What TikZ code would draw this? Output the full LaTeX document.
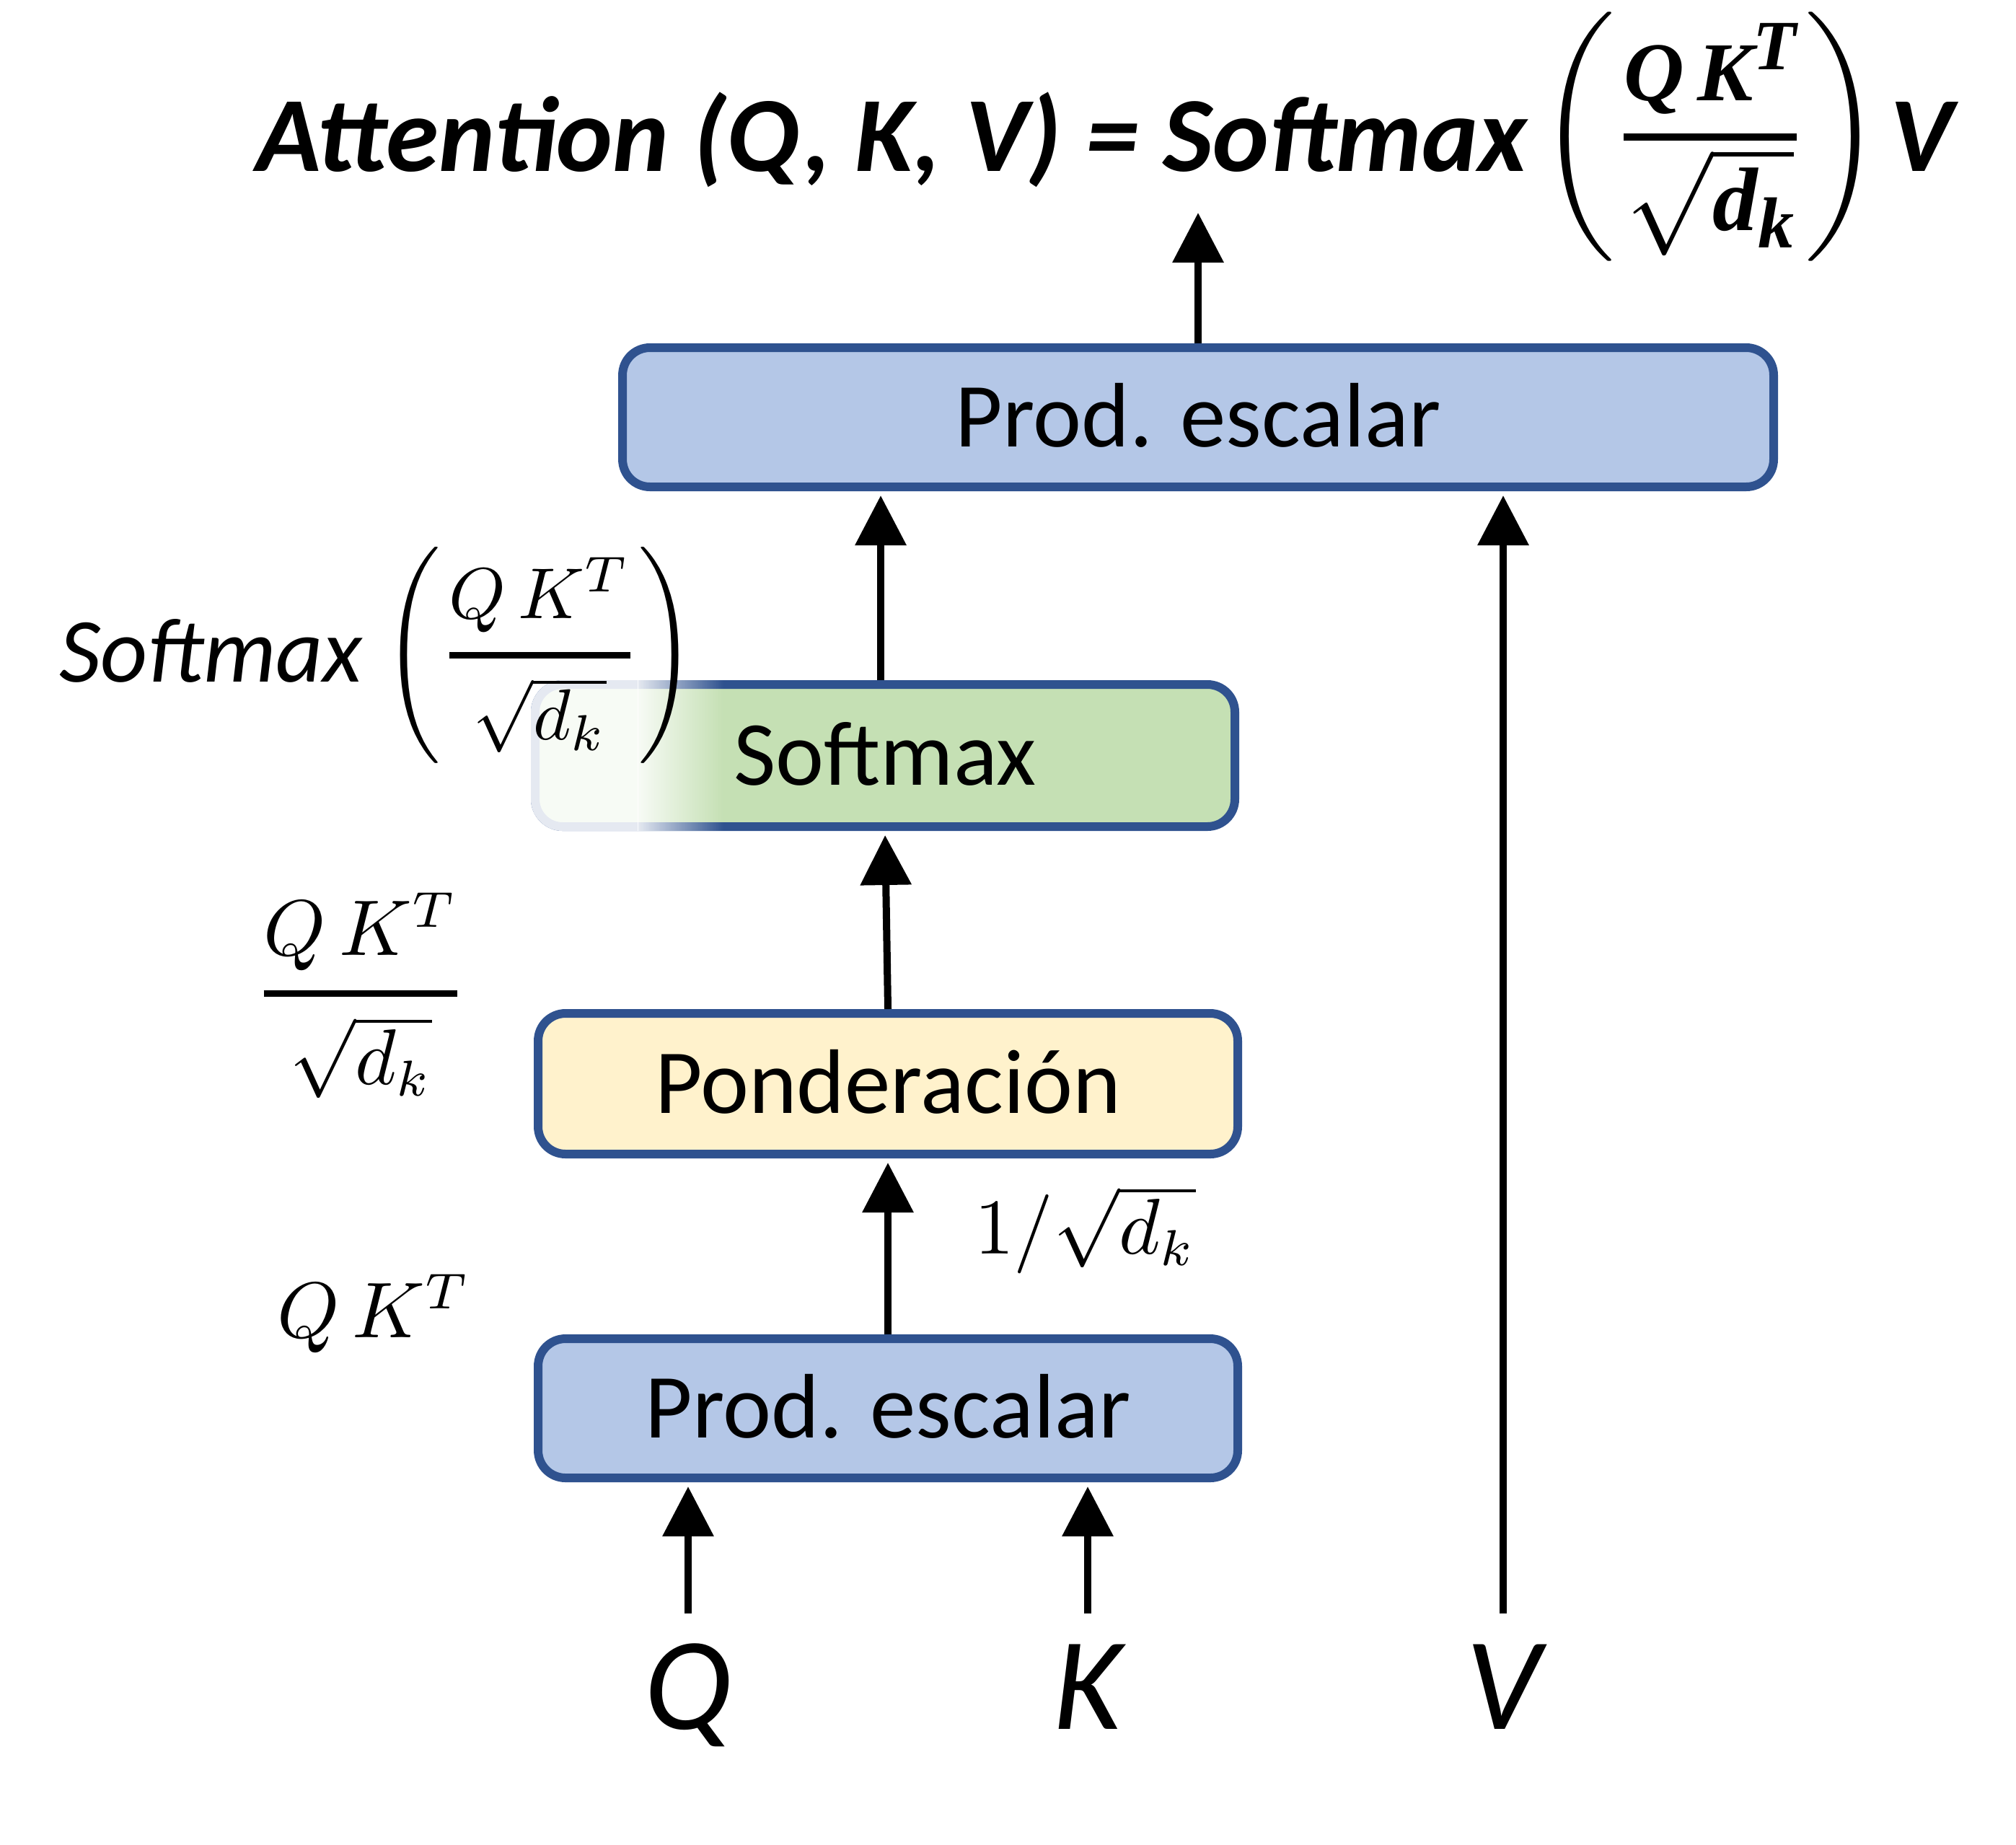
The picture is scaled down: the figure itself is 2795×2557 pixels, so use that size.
\documentclass[tikz,border=0pt]{standalone}
\usepackage{amsmath}
\usepackage[no-math]{fontspec}
\setmainfont{Carlito}
\newfontfamily\tms{Liberation Serif}
\usetikzlibrary{arrows.meta,fadings}
\definecolor{bdr}{HTML}{2F528F}
\definecolor{bluef}{HTML}{B4C7E7}
\definecolor{yelf}{HTML}{FFF2CC}
\definecolor{grnf}{HTML}{C5E0B4}
\newcommand\tb[2]{\text{\fontsize{#1}{#1}\selectfont\tms\bfseries\itshape #2}}
\newcommand\tfr[2]{\genfrac{}{}{0.9pt}{0}{#1}{#2}}
\newcommand\tfrt[2]{\genfrac{}{}{1pt}{1}{#1}{#2}}
\tikzfading[name=fadeout, left color=transparent!0, right color=transparent!100]
\begin{document}
\begin{tikzpicture}[x=0.1pt,y=-0.1pt,
  box/.style={draw=bdr, line width=1.2pt, rounded corners=3.8pt, inner sep=0pt,
    font=\fontsize{12.7}{15}\selectfont, text height=8.2pt, text depth=0pt},
  arr/.style={line width=1pt, -{Triangle[length=6.9pt,width=6.9pt]}, shorten >=0.6pt},
  inlab/.style={font=\fontsize{18.3}{22}\selectfont\itshape, anchor=base, inner sep=0pt},
  mlab/.style={font=\fontsize{10.6}{13}\selectfont, inner sep=0pt},
]
\useasboundingbox (0,0) rectangle (2795,2557);

% boxes
\node[box, fill=bluef, minimum width=159.6pt, minimum height=19.3pt] (top) at (1661,578.5) {Prod. escalar};
\node[box, fill=grnf, minimum width=97pt, minimum height=19.7pt] (sm) at (1227,1047.5) {Softmax};
\node[box, fill=yelf, minimum width=97pt, minimum height=19.5pt] (pond) at (1231,1502.5) {Ponderación};
\node[box, fill=bluef, minimum width=97pt, minimum height=19.3pt] (bot) at (1231,1952.5) {Prod. escalar};

% faded left part of the softmax box
\begin{scope}
  \clip[rounded corners=4.4pt] (736,943) rectangle (1718,1152);
  \fill[white, fill opacity=0.88] (720,930) rectangle (884.5,1165);
  \fill[white, fill opacity=0.88, path fading=fadeout] (884,930) rectangle (1003,1165);
\end{scope}

% title
\node[anchor=base west, inner sep=0pt, font=\fontsize{14.8}{18}\selectfont\bfseries\itshape] (title) at (353,237)
  {Attention (Q, K, V) = Softmax\hspace{0.1em}\raisebox{1.1pt}{$\left(\tfrt{\raisebox{3pt}{\tb{11.6}{Q\hspace{0.16em}K}\raisebox{4.3pt}{\tb{9.8}{T}}}}{\sqrt{\tb{12.5}{d}\raisebox{-2.3pt}{\tb{10}{k}}}}\right)$}\hspace{0.08em}V};

% side labels
\node[anchor=base west, inner sep=0pt, font=\fontsize{12.7}{15}\selectfont\itshape] (smlab) at (80,945)
  {Softmax {\fontsize{10.4}{12.5}\selectfont\raisebox{1.2pt}{$\left(\tfr{Q\,K^T}{\sqrt{d_k}}\right)$}}};
\node[mlab, anchor=base] (frlab) at (500,1405) {$\tfr{Q\,K^T}{\sqrt{d_k}}$};
\node[mlab, anchor=base west] (qklab) at (382,1854) {$Q\,K^T$};
\node[mlab, anchor=base west] (dklab) at (1349,1738) {$1/\sqrt{d_k}$};

% inputs
\node[inlab] (Q) at (954,2397) {Q};
\node[inlab] (K) at (1508,2397) {K};
\node[inlab] (V) at (2084,2397) {V};
\coordinate (qs) at (954,2237);
\coordinate (ks) at (1508,2237);
\coordinate (vs) at (2084,2237);
\coordinate (ttip) at (1661,289);

% connectors
\draw[arr] (qs) -- (qs |- bot.south);
\draw[arr] (ks) -- (ks |- bot.south);
\draw[arr] (vs) -- (vs |- top.south);
\draw[arr] (bot.north) -- (pond.south);
\draw[arr] (pond.north) -- (sm.south);
\draw[arr] ([xshift=-0.6pt]sm.north) -- ([xshift=-0.6pt]sm.north |- top.south);
\draw[arr] (top.north) -- (ttip);
\end{tikzpicture}
\end{document}
